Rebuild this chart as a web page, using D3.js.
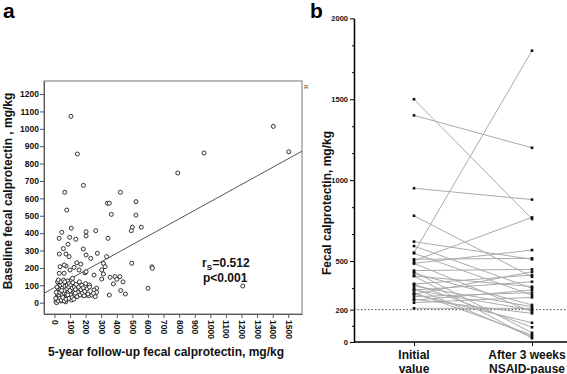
<!DOCTYPE html>
<html>
<head>
<meta charset="utf-8">
<script src="https://cdn.jsdelivr.net/npm/d3@7"></script>
<style>
  body { margin: 0; background: #fff; }
  svg { font-family: "Liberation Sans", Arial, sans-serif; font-weight: bold; }
</style>
</head>
<body>
<svg width="567" height="374"></svg>
<script>
// ---- Panel a data (5-year follow-up vs baseline, mg/kg)
const followUp = [
    106, 147, 186, 66, 423, 791, 960, 1404, 1503,
    340, 352, 523, 79, 365, 523, 557, 500, 493, 108, 47, 30, 98, 137, 203, 203, 265, 344,
    87, 57, 31, 74, 94, 185, 203, 233, 275, 335, 496, 625, 628, 1208, 600,
    357, 389, 400, 378, 420, 440, 425, 455, 352, 270, 254, 224, 303, 254, 314, 325, 303, 314, 196, 203,
    31, 62, 74, 143, 169, 36, 62, 100, 126, 158,
    180, 200, 220, 240, 260, 270, 250, 262,
    10, 15, 18, 20, 22, 25, 28, 30, 12, 16, 20, 25, 30, 32, 35, 38, 40, 42, 45, 48, 50, 52, 55, 58,
    60, 62, 65, 68, 70, 72, 75, 78, 80, 82, 85, 88, 90, 92, 95, 98, 100, 105, 108, 110, 112, 115,
    118, 120, 125, 128, 130, 135, 140, 145, 150, 155, 160, 165, 170, 175, 180, 185, 190, 195, 200, 210, 215, 225,
    14, 24, 34, 44, 54, 64, 74, 84, 94, 104, 114, 124, 134, 8, 46, 66, 86, 116
];
const baseline = [
    1072, 855, 675, 635, 635, 746, 861, 1014, 868,
    572, 572, 581, 533, 508, 504, 434, 434, 414, 428, 405, 370, 376, 365, 408, 384, 414, 370,
    336, 311, 280, 280, 265, 309, 274, 255, 284, 265, 227, 207, 198, 96, 83,
    146, 150, 135, 108, 150, 120, 70, 50, 44, 83, 73, 102, 136, 159, 226, 207, 188, 165, 172, 178,
    169, 169, 211, 230, 222, 207, 217, 188, 203, 188,
    44, 44, 40, 44, 50, 60, 54, 35,
    5, 20, 35, 50, 65, 80, 95, 110, 60, 90, 120, 130, 15, 40, 60, 75, 100, 120, 10, 30, 45, 85, 105, 130,
    20, 55, 70, 95, 115, 5, 35, 50, 80, 100, 125, 25, 60, 90, 110, 40, 70, 100, 130, 15, 50, 85,
    115, 30, 60, 90, 45, 75, 105, 35, 60, 90, 120, 45, 75, 100, 55, 85, 40, 65, 110, 80, 50, 90,
    0, 10, 25, 15, 30, 10, 20, 40, 25, 45, 30, 20, 55, 25, 70, 120, 45, 140
];
const rsText = '=0.512';
const pText = 'p<0.001';
const regIntercept = 87;
const regSlope = 0.494;
const xTicksA = d3.range(0, 1600, 100);
const yTicksA = d3.range(0, 1300, 100);

// ---- Panel b data (paired values)
const groups = ['Initial value', 'After 3 weeks NSAID-pause'];
const initialValue = [1500, 1400, 950, 780, 620, 593, 552, 548, 511, 502, 486, 486, 441, 434, 424, 408,
    408, 358, 358, 346, 332, 321, 321, 305, 295, 295, 280, 264, 259, 243, 208];
const afterPause = [760, 1200, 880, 403, 511, 332, 1800, 290, 517, 770, 568, 187, 449, 57, 229, 23,
    342, 414, 91, 218, 33, 372, 198, 43, 434, 119, 305, 177, 321, 276, 208];
const yTicksB = [0, 200, 500, 1000, 1500, 2000];
const minorTicksB = [100, 333, 667, 833, 1167, 1333, 1667, 1833];
const cutoff = 200;

const svg = d3.select('svg');
const boxA = { left: 44, right: 302, top: 81, bottom: 314 };

// ---- Escalas painel a
const xA = d3.scaleLinear().domain([-67, 1588]).range([boxA.left, boxA.right]);
const yA = d3.scaleLinear().domain([-65, 1275]).range([boxA.bottom, boxA.top]);

const gA = svg.append('g');

gA.append('rect')
    .attr('x', boxA.left).attr('y', boxA.top)
    .attr('width', boxA.right - boxA.left).attr('height', boxA.bottom - boxA.top)
    .attr('fill', 'none').attr('stroke', '#777').attr('stroke-width', 1);

const axA = gA.append('g')
    .attr('transform', `translate(${boxA.left},0)`)
    .call(d3.axisLeft(yA).tickValues(yTicksA).tickFormat(d3.format('d'))
        .tickSize(4).tickSizeOuter(0).tickPadding(1));
axA.selectAll('text').attr('font-size', 8.5).attr('fill', '#111');

const axXA = gA.append('g')
    .attr('transform', `translate(0,${boxA.bottom})`)
    .call(d3.axisBottom(xA).tickValues(xTicksA).tickFormat(d3.format('d')).tickSize(4).tickSizeOuter(0));
axXA.selectAll('text')
    .attr('font-size', 8.5).attr('fill', '#111')
    .attr('transform', 'rotate(90)')
    .attr('text-anchor', 'start')
    .attr('x', 6).attr('y', 0).attr('dy', '0.35em');
[axA, axXA].forEach(a => {
    a.selectAll('.domain').attr('stroke', '#555');
    a.selectAll('.tick line').attr('stroke', '#555');
});

// ---- Regression line
const xDom = xA.domain();
gA.append('path')
    .attr('fill', 'none').attr('stroke', '#555').attr('stroke-width', 1)
    .attr('d', d3.line()
        .x(d => xA(d))
        .y(d => yA(regIntercept + regSlope * d))(xDom));

gA.selectAll('circle')
    .data(followUp.map((f, i) => ({ x: f, y: baseline[i] })))
    .join('circle')
    .attr('cx', d => xA(d.x))
    .attr('cy', d => yA(d.y))
    .attr('r', 2)
    .attr('fill', '#fff')
    .attr('stroke', '#333')
    .attr('stroke-width', 1);

const rs = gA.append('text').attr('x', 202).attr('y', 267).attr('font-size', 12).attr('fill', '#111');
rs.append('tspan').text('r');
rs.append('tspan').attr('font-size', 8).attr('dy', 3).text('S');
rs.append('tspan').attr('dy', -3).attr('dx', 0.5).text(rsText);
gA.append('text').attr('x', 203).attr('y', 282).attr('font-size', 12).attr('fill', '#111').text(pText);

gA.append('text').attr('x', 304).attr('y', 89).attr('font-size', 6).attr('font-weight', 'normal')
    .attr('fill', '#444').text('R');

gA.append('text')
    .attr('transform', 'translate(12,191) rotate(-90)')
    .attr('text-anchor', 'middle').attr('font-size', 12).attr('fill', '#111')
    .text('Baseline fecal calprotectin , mg/kg');
gA.append('text')
    .attr('x', 166).attr('y', 356)
    .attr('text-anchor', 'middle').attr('font-size', 12).attr('fill', '#111')
    .text('5-year follow-up fecal calprotectin, mg/kg');

svg.append('text').attr('x', 3).attr('y', 18).attr('font-size', 21).text('a');
svg.append('text').attr('x', 310).attr('y', 18).attr('font-size', 21).text('b');

// ---- Escalas painel b
const leftB = 354, rightB = 567;
const xB = d3.scalePoint().domain(groups).range([414, 532]);
const yB = d3.scaleLinear().domain([0, 2000]).range([342, 18.3]);

const gB = svg.append('g');

gB.append('line')
    .attr('x1', leftB).attr('x2', rightB)
    .attr('y1', yB(cutoff)).attr('y2', yB(cutoff))
    .attr('stroke', '#444').attr('stroke-width', 1).attr('stroke-dasharray', '1.5,2');

const pairs = initialValue.map((v, i) => [v, afterPause[i]]);
gB.selectAll('path.pair')
    .data(pairs)
    .join('path')
    .attr('class', 'pair')
    .attr('fill', 'none').attr('stroke', '#aaa').attr('stroke-width', 1)
    .attr('d', d3.line().x((d, i) => xB(groups[i])).y(d => yB(d)));

gB.selectAll('rect.pt')
    .data(pairs.flatMap(p => p.map((v, i) => ({ g: groups[i], v }))))
    .join('rect')
    .attr('class', 'pt')
    .attr('x', d => xB(d.g) - 1.3).attr('y', d => yB(d.v) - 1.3)
    .attr('width', 2.6).attr('height', 2.6)
    .attr('fill', '#111');

const axB = gB.append('g')
    .attr('transform', `translate(${leftB},0)`)
    .call(d3.axisLeft(yB).tickValues(yTicksB).tickFormat(d3.format('d'))
        .tickSize(4).tickSizeOuter(0).tickPadding(2));
axB.selectAll('text').attr('font-size', 7.5).attr('fill', '#111');
gB.append('g')
    .attr('transform', `translate(${leftB},0)`)
    .call(d3.axisLeft(yB).tickValues(minorTicksB).tickSize(2).tickFormat(''))
    .select('.domain').remove();
axB.select('.domain').attr('stroke-width', 1.5);

const axXB = gB.append('g')
    .attr('transform', `translate(0,${yB(0)})`)
    .call(d3.axisBottom(xB).tickSize(4).tickSizeOuter(0).tickFormat(''));
axXB.select('.domain').attr('d', `M${leftB},0H${rightB}`).attr('stroke-width', 1.5);

const labelLines = { 'Initial value': ['Initial', 'value'], 'After 3 weeks NSAID-pause': ['After 3 weeks', 'NSAID-pause'] };
groups.forEach(g => {
    const cx = Math.min(xB(g), 527);
    const t = gB.append('text')
        .attr('x', cx).attr('y', 359)
        .attr('text-anchor', 'middle').attr('font-size', 12).attr('fill', '#111');
    labelLines[g].forEach((line, i) => {
        t.append('tspan').attr('x', cx).attr('dy', i ? 13.5 : 0).text(line);
    });
});

gB.append('text')
    .attr('transform', 'translate(331,203) rotate(-90)')
    .attr('text-anchor', 'middle').attr('font-size', 12).attr('fill', '#111')
    .text('Fecal calprotectin, mg/kg');
</script>
</body>
</html>
